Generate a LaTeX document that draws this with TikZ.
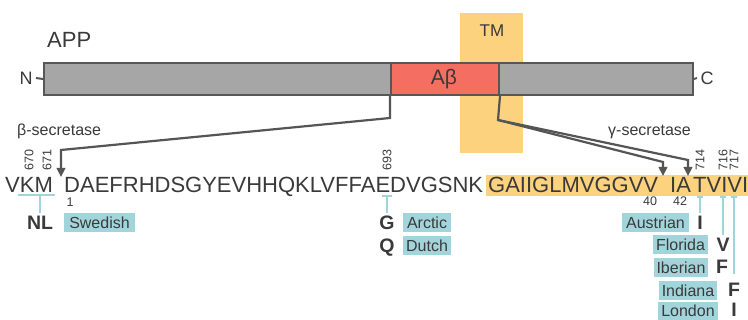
\documentclass[tikz,border=0pt]{standalone}
\usepackage{fontspec}
\setmainfont{Liberation Sans}
\usetikzlibrary{arrows.meta,calc}
\definecolor{barg}{HTML}{A6A6A6}
\definecolor{bord}{HTML}{575757}
\definecolor{abred}{HTML}{F46E62}
\definecolor{tmy}{HTML}{FDD27F}
\definecolor{tealc}{HTML}{A2D5DB}
\definecolor{txt}{HTML}{3A3A3A}
\definecolor{arrc}{HTML}{555555}
\newcommand\fsSeq{\fontsize{22}{24}\selectfont}
\newcommand\fsLab{\fontsize{16}{18}\selectfont}
\newcommand\fsMut{\fontsize{19.5}{21}\selectfont\bfseries}
\newcommand\fsNum{\fontsize{12.5}{13}\selectfont}
\newcommand\fsSm{\fontsize{12.5}{14}\selectfont}
\newcommand\fsSec{\fontsize{16}{18}\selectfont}
\begin{document}
\begin{tikzpicture}[x=1pt,y=-1pt,
  seqtxt/.style={anchor=base west, inner sep=0pt, font=\fsSeq, text=txt},
  lab/.style={fill=tealc, inner xsep=3pt, inner ysep=0pt, minimum height=19pt, font=\fsLab, text=txt},
  mut/.style={font=\fsMut, text=txt, inner sep=0pt, anchor=base},
  num/.style={font=\fsNum, text=txt, rotate=90, inner sep=0pt},
  arr/.style={draw=arrc, line width=2.2pt, line join=miter, -{Triangle[length=9pt,width=8.5pt]}},
  tline/.style={draw=tealc, line width=2.4pt},
  barline/.style={draw=bord, line width=2pt}]
\useasboundingbox (0,0) rectangle (748,320);
\fill[white] (0,0) rectangle (748,320);
% TM region
\node[fill=tmy, minimum width=63pt, minimum height=140pt, inner sep=0, anchor=north west] (tm) at (460,13) {};
\node[font=\fontsize{17}{18}\selectfont, text=txt] (tmlab) at (492,31) {TM};
% APP bar
\node[anchor=base west, inner sep=0, font=\fontsize{22}{24}\selectfont, text=txt] (app) at (47,48) {APP};
\node[fill=barg, draw=bord, line width=2pt, minimum width=649pt, minimum height=32pt, inner sep=0, anchor=north west] (bar) at (43,62) {};
\node[fill=abred, draw=bord, line width=2pt, minimum width=108pt, minimum height=32pt, inner sep=0, anchor=north west] (ab) at (390,62) {};
\node[font=\fontsize{21}{23}\selectfont, text=txt, anchor=base] (abl) at (444,85) {Aβ};
\node[font=\fontsize{18}{20}\selectfont, text=txt] (nt) at (26,78) {N};
\node[font=\fontsize{18}{20}\selectfont, text=txt] (ct) at (707,78) {C};
\draw[barline] (nt.east) -- (bar.west);
\draw[barline] (bar.east) -- (ct.west);
% secretase labels
\node[anchor=west, font=\fsSec, text=txt, inner sep=0] (bsec) at (17,131) {β-secretase};
\node[anchor=west, font=\fsSec, text=txt, inner sep=0] (gsec) at (608,132) {γ-secretase};
% highlight
\fill[tmy] (486,175) rectangle (748,196);
% sequence
\node[seqtxt] (s1) at (5,193) {VKM};
\node[seqtxt] (s2) at (64,193) {DAEFRHDSGYEVHHQKLVFFAEDVGSNK};
\node[seqtxt] (s3) at (488,193) {GAIIGLMVGGVV};
\node[seqtxt] (s4) at (670,193) {IA};
\node[seqtxt] (s5) at (693,193) {TVIVI};
% cleavage coordinates
\coordinate (bc1) at (390,118);
\coordinate (bc2) at (61,150);
\coordinate (bt) at (61,177);
\coordinate (gc1) at (498,120);
\coordinate (gc2) at (663,162);
\coordinate (gt2) at (663,176);
\coordinate (gc3) at (688,160);
\coordinate (gt3) at (688,176);
\draw[arr] (ab.south west) -- (bc1) -- (bc2) -- (bt);
\draw[arr] (ab.south east) -- (gc1) -- (gc2) -- (gt2);
\draw[arr] (gc1) -- (gc3) -- (gt3);
% residue numbers
\node[num] (n670) at (29,160) {670};
\node[num] (n671) at (47,160) {671};
\node[num] (n693) at (387,160) {693};
\node[num] (n714) at (700,160) {714};
\node[num] (n716) at (723,160) {716};
\node[num] (n717) at (734,160) {717};
\node[font=\fsSm, text=txt, inner sep=0, anchor=base] (one) at (70,207) {1};
\node[font=\fsSm, text=txt, inner sep=0, anchor=base] (f40) at (650,206) {40};
\node[font=\fsSm, text=txt, inner sep=0, anchor=base] (f42) at (680,206) {42};
% mutation letters
\node[mut] (mNL) at (40,230) {NL};
\node[mut] (mG) at (387,230) {G};
\node[mut] (mQ) at (387,253) {Q};
\node[mut] (mI1) at (700,230) {I};
\node[mut] (mV) at (723,252) {V};
\node[mut] (mF1) at (722,274) {F};
\node[mut] (mF2) at (734,297) {F};
\node[mut] (mI2) at (734,317) {I};
% labels
\node[lab, minimum width=71pt] (swe) at (99.5,223) {Swedish};
\node[lab, minimum width=48pt] (arc) at (427,222.5) {Arctic};
\node[lab, minimum width=48pt] (dut) at (427,245.5) {Dutch};
\node[lab, minimum width=67pt] (aus) at (655.5,222.5) {Austrian};
\node[lab, minimum width=53pt] (flo) at (680.5,245) {Florida};
\node[lab, minimum width=54pt] (ibe) at (681,267.5) {Iberian};
\node[lab, minimum width=56pt] (ind) at (688,290.5) {Indiana};
\node[lab, minimum width=56pt, minimum height=18pt] (lon) at (688,311) {London};
% teal connectors
\coordinate (kmL) at (18,195);
\coordinate (kmR) at (55,195);
\coordinate (kmM) at (40,195);
\draw[tline] (kmL) -- (kmR);
\draw[tline] (kmM) -- ($(mNL.north)+(0,-3)$);
\coordinate (eM) at (387,196);
\draw[tline] (382,196) -- (392,196);
\draw[tline] (eM) -- ($(mG.north)+(0,-3)$);
\coordinate (t714) at (700,197);
\draw[tline] (697,197) -- (703,197);
\draw[tline] (t714) -- ($(mI1.north)+(0,-3)$);
\coordinate (t716) at (723,197);
\draw[tline] (720,197) -- (726,197);
\draw[tline] (t716) -- ($(mV.north)+(0,-3)$);
\coordinate (t717) at (734,197);
\draw[tline] (731,197) -- (737,197);
\draw[tline] (t717) -- ($(mF2.north)+(0,-9)$);
\end{tikzpicture}
\end{document}
